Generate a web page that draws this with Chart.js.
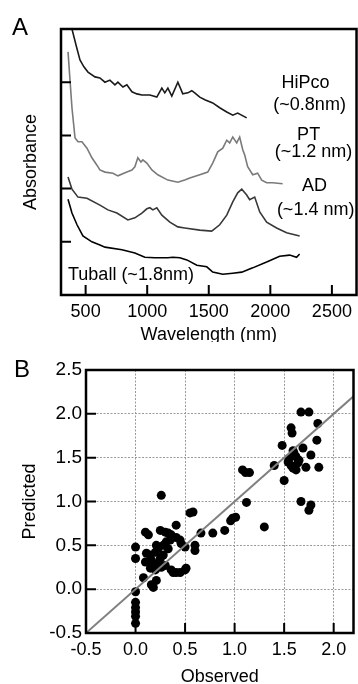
<!DOCTYPE html>
<html>
<head>
<meta charset="utf-8">
<script src="https://cdn.jsdelivr.net/npm/chart.js@4.4.1/dist/chart.umd.min.js"></script>
<style>
  html, body { margin: 0; padding: 0; background: #fff; }
  canvas { display: block; }
</style>
</head>
<body>
<canvas id="spectra" width="358" height="342"></canvas>
<canvas id="prediction" width="358" height="342"></canvas>
<script>
// ---- Panel A: absorbance spectra (offset for clarity) ----
const hipcoNm  = [389,422,454,486,519,576,616,657,697,738,762,803,835,876,916,957,1022,1078,1119,1143,1168,1200,1249,1273,1289,1330,1362,1386,1427,1468,1532,1589,1646,1695,1735,1808];
const hipcoAbs = [5.00,4.70,4.42,4.29,4.19,4.10,4.08,4.00,4.04,3.95,4.00,3.91,3.95,3.82,3.78,3.76,3.76,3.72,3.89,3.80,3.89,3.74,4.00,3.87,3.78,3.80,3.84,3.80,3.72,3.67,3.61,3.52,3.44,3.38,3.42,3.33];

const ptNm  = [357,389,414,438,470,511,551,592,616,657,722,762,835,876,900,924,949,965,997,1038,1086,1168,1249,1305,1346,1427,1492,1532,1573,1614,1646,1670,1695,1727,1751,1776,1792,1816,1857,1897,1930,1970,2019,2100];
const ptAbs = [4.57,3.52,2.95,2.88,2.88,2.76,2.58,2.44,2.35,2.31,2.29,2.24,2.31,2.35,2.41,2.58,2.50,2.54,2.48,2.35,2.26,2.16,2.12,2.16,2.20,2.26,2.31,2.48,2.69,2.76,2.91,2.86,2.97,2.86,2.97,2.73,2.63,2.41,2.26,2.29,2.16,2.11,2.11,2.09];

const adNm  = [357,389,438,511,616,681,754,843,900,957,997,1022,1046,1078,1119,1184,1249,1305,1427,1524,1589,1646,1695,1735,1768,1808,1832,1873,1914,1970,2051,2132,2238];
const adAbs = [2.22,1.99,1.84,1.82,1.69,1.60,1.54,1.41,1.45,1.54,1.62,1.64,1.60,1.64,1.50,1.37,1.28,1.26,1.22,1.20,1.32,1.50,1.75,1.92,1.99,1.88,1.79,1.84,1.56,1.37,1.26,1.17,1.11];

const tuballNm  = [357,389,430,478,551,616,657,795,900,981,1062,1168,1208,1265,1322,1403,1484,1532,1614,1695,1768,1857,1970,2076,2157,2213,2238];
const tuballAbs = [1.80,1.54,1.32,1.11,1.00,0.94,0.90,0.85,0.79,0.71,0.70,0.70,0.71,0.70,0.66,0.56,0.53,0.43,0.39,0.41,0.43,0.51,0.62,0.73,0.75,0.71,0.77];

const wavelengthTicks = [500, 1000, 1500, 2000, 2500];
const absorbanceTicks = [1, 2, 3, 4];

// ---- Panel B: predicted vs observed ----
const observed = [0.26,0.55,0.58,0.98,1.01,1.08,1.11,1.15,1.12,1.40,1.48,1.50,1.57,1.58,1.67,1.75,1.84,1.83,1.69,1.59,1.62,1.77,1.55,1.64,1.54,1.72,1.59,1.62,1.85,1.57,1.67,1.77,1.75,1.30,0.96,1.60,1.65,
  0.90,0.78,0.66,0.41,0.10,0.13,0.25,0.30,0.33,0.36,0.35,0.41,0.45,0.46,0.00,0.21,0.28,0.31,0.50,0.60,0.60,0.00,0.11,0.15,0.10,0.16,0.18,0.15,0.20,0.23,0.25,0.26,0.30,0.36,0.38,0.41,0.45,0.50,0.51,0.08,0.21,0.18,0.16,0.00,0.00,0.00,0.00,0.00,0.00,0.20,0.28,0.23,0.33];
const predicted = [1.07,0.87,0.88,0.81,0.82,1.36,1.33,1.33,0.99,1.41,1.64,1.24,1.84,1.78,2.02,2.02,1.89,1.70,1.61,1.58,1.51,1.53,1.49,1.44,1.45,1.39,1.38,1.36,1.39,1.41,1.00,0.96,0.90,0.71,0.78,1.55,1.47,
  0.67,0.64,0.64,0.73,0.65,0.62,0.67,0.65,0.64,0.62,0.56,0.59,0.56,0.52,0.48,0.50,0.50,0.54,0.48,0.50,0.44,0.35,0.41,0.39,0.31,0.33,0.27,0.24,0.22,0.30,0.35,0.25,0.27,0.22,0.19,0.19,0.19,0.22,0.24,0.13,0.10,0.02,0.05,-0.03,-0.15,-0.21,-0.26,-0.31,-0.39,0.42,0.39,0.47,0.46];
const identityLine = [-0.5, 2.2];

const observedTicks = [-0.5, 0, 0.5, 1, 1.5, 2];
const predictedTicks = [-0.5, 0, 0.5, 1, 1.5, 2, 2.5];

const FONT = "'Liberation Sans', Arial, sans-serif";
Chart.defaults.font.family = FONT;
Chart.defaults.color = '#000';

const pairs = (xs, ys) => xs.map((x, i) => ({ x, y: ys[i] }));

// Frame around the plot area and short inward tick marks
const frame = {
  id: 'frame',
  afterDatasetsDraw(chart, args, opts) {
    const { ctx, chartArea: a, scales: { x, y } } = chart;
    ctx.save();
    ctx.strokeStyle = '#000';
    ctx.lineWidth = 2;
    ctx.beginPath();
    (opts.xMarks || []).forEach(v => {
      const px = x.getPixelForValue(v);
      ctx.moveTo(px, a.bottom); ctx.lineTo(px, a.bottom - 10);
    });
    (opts.yMarks || []).forEach(v => {
      const py = y.getPixelForValue(v);
      ctx.moveTo(a.left, py); ctx.lineTo(a.left + 10, py);
    });
    ctx.stroke();
    ctx.lineWidth = 2.5;
    ctx.strokeRect(a.left, a.top, a.right - a.left, a.bottom - a.top);
    ctx.restore();
  }
};

// Text labels anchored in data coordinates, plus the panel letter
const notes = {
  id: 'notes',
  afterDraw(chart, args, opts) {
    const { ctx, scales: { x, y } } = chart;
    ctx.save();
    ctx.fillStyle = '#000';
    ctx.textBaseline = 'middle';
    ctx.font = `18px ${FONT}`;
    (opts.items || []).forEach(it => {
      ctx.textAlign = it.align || 'center';
      ctx.fillText(it.text, x.getPixelForValue(it.x), y.getPixelForValue(it.y));
    });
    if (opts.letter) {
      ctx.font = `24px ${FONT}`;
      ctx.textAlign = 'left';
      ctx.textBaseline = 'alphabetic';
      ctx.fillText(opts.letter.text, opts.letter.left, opts.letter.baseline);
    }
    ctx.restore();
  }
};

const fixedTicks = list => scale => { scale.ticks = list.map(value => ({ value })); };

new Chart(document.getElementById('spectra'), {
  type: 'line',
  data: {
    datasets: [
      { data: pairs(hipcoNm, hipcoAbs),   borderColor: '#1a1a1a' },
      { data: pairs(ptNm, ptAbs),         borderColor: '#7a7a7a' },
      { data: pairs(adNm, adAbs),         borderColor: '#383838' },
      { data: pairs(tuballNm, tuballAbs), borderColor: '#000000' }
    ].map(d => Object.assign(d, { borderWidth: 1.6, pointRadius: 0, tension: 0, fill: false }))
  },
  options: {
    responsive: false,
    devicePixelRatio: 1,
    animation: false,
    events: [],
    layout: { padding: { top: 29, right: 1, left: 0, bottom: 0 } },
    plugins: {
      legend: { display: false },
      tooltip: { enabled: false },
      frame: { xMarks: wavelengthTicks, yMarks: absorbanceTicks },
      notes: {
        letter: { text: 'A', left: 12, baseline: 35 },
        items: [
          { text: 'HiPco', x: 2286, y: 3.98 },
          { text: '(~0.8nm)', x: 2319, y: 3.57 },
          { text: 'PT', x: 2311, y: 3.01 },
          { text: '(~1.2 nm)', x: 2351, y: 2.69 },
          { text: 'AD', x: 2359, y: 2.05 },
          { text: '(~1.4 nm)', x: 2368, y: 1.60 },
          { text: 'Tuball (~1.8nm)', x: 357, y: 0.38, align: 'left' }
        ]
      }
    },
    scales: {
      x: {
        type: 'linear', min: 300, max: 2700,
        afterBuildTicks: fixedTicks(wavelengthTicks),
        afterFit: s => { s.height = 47; },
        grid: { display: false, drawTicks: false },
        border: { display: false },
        ticks: { font: { size: 18 }, padding: 6, maxRotation: 0, callback: v => String(v) },
        title: { display: true, text: 'Wavelength (nm)', font: { size: 18, lineHeight: 0.75 }, padding: 0 }
      },
      y: {
        type: 'linear', min: 0, max: 5,
        afterBuildTicks: fixedTicks(absorbanceTicks),
        afterFit: s => { s.width = 61; },
        grid: { display: false, drawTicks: false },
        border: { display: false },
        ticks: { display: false },
        title: { display: true, text: 'Absorbance', font: { size: 18 }, padding: { top: 20, bottom: 0 } }
      }
    }
  },
  plugins: [frame, notes]
});

new Chart(document.getElementById('prediction'), {
  type: 'scatter',
  data: {
    datasets: [
      {
        type: 'line', data: pairs(identityLine, identityLine),
        borderColor: '#808080', borderWidth: 2, pointRadius: 0, order: 0
      },
      {
        data: pairs(observed, predicted),
        backgroundColor: '#000', borderColor: '#000', pointRadius: 4.5, borderWidth: 0, order: 1
      }
    ]
  },
  options: {
    responsive: false,
    devicePixelRatio: 1,
    animation: false,
    events: [],
    layout: { padding: { top: 28, right: 1, left: 0, bottom: 0 } },
    plugins: {
      legend: { display: false },
      tooltip: { enabled: false },
      frame: { xMarks: observedTicks.slice(1), yMarks: predictedTicks.slice(1, -1) },
      notes: { letter: { text: 'B', left: 14, baseline: 35 } }
    },
    scales: {
      x: {
        type: 'linear', min: -0.5, max: 2.2,
        afterBuildTicks: fixedTicks(observedTicks),
        afterFit: s => { s.height = 51; },
        grid: { color: '#9a9a9a', lineWidth: 1, drawTicks: false },
        border: { display: false, dash: [2, 1.5] },
        ticks: { font: { size: 18 }, padding: 6, maxRotation: 0, callback: v => v.toFixed(1) },
        title: { display: true, text: 'Observed', font: { size: 18, lineHeight: 0.75 }, padding: 0 }
      },
      y: {
        type: 'linear', min: -0.5, max: 2.5,
        afterBuildTicks: fixedTicks(predictedTicks),
        afterFit: s => { s.width = 86; },
        grid: { color: '#9a9a9a', lineWidth: 1, drawTicks: false },
        border: { display: false, dash: [2, 1.5] },
        ticks: { font: { size: 19 }, padding: 4, callback: v => v.toFixed(1) },
        title: { display: true, text: 'Predicted', font: { size: 18 }, padding: { top: 19, bottom: 0 } }
      }
    }
  },
  plugins: [frame, notes]
});
</script>
</body>
</html>
